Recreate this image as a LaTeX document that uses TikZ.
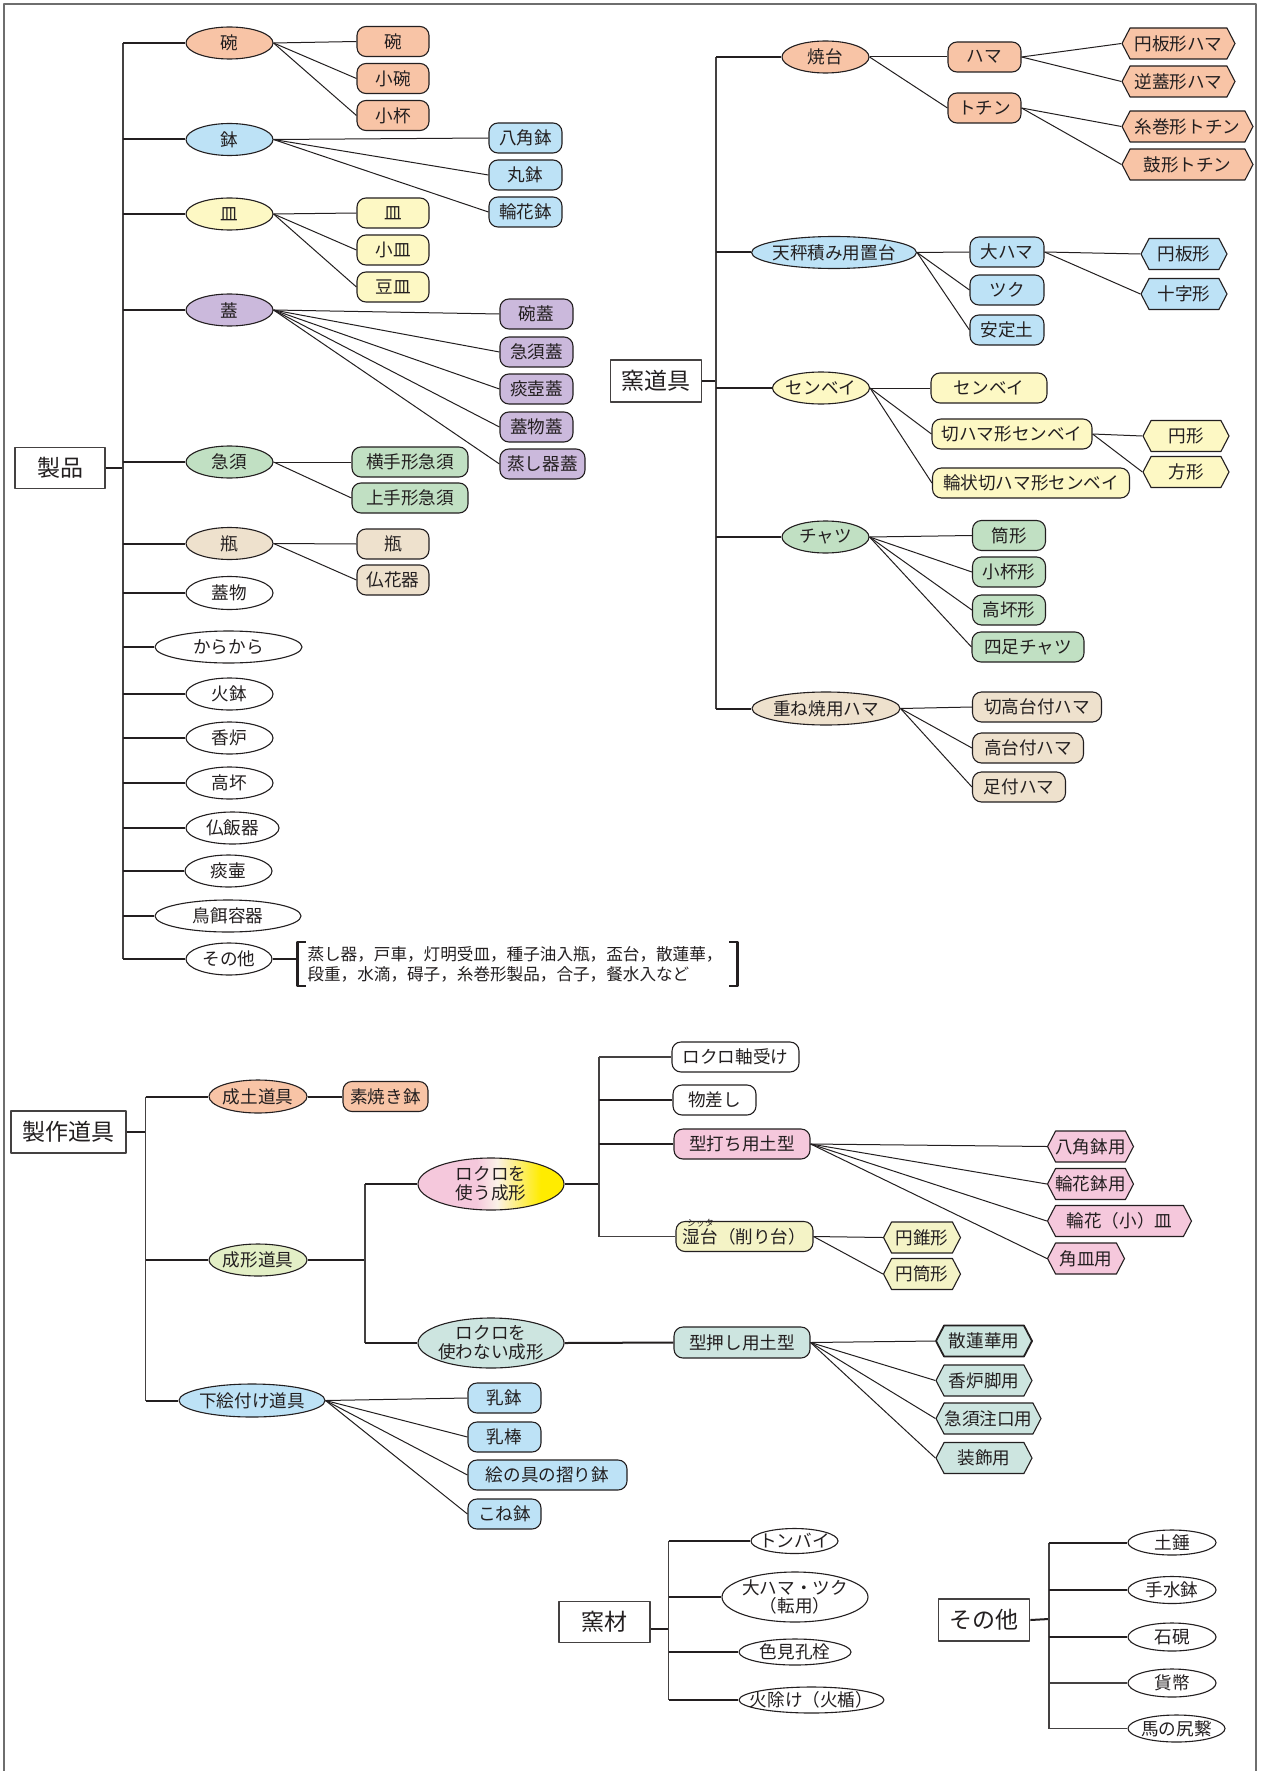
\documentclass[tikz,border=0pt]{standalone}
\usepackage{fontspec}
\setmainfont{Noto Sans CJK JP}
\usetikzlibrary{shapes.geometric,shapes.symbols,calc}

\definecolor{cS}{HTML}{F8C4A6}
\definecolor{cB}{HTML}{BDE2F6}
\definecolor{cY}{HTML}{FDF8C4}
\definecolor{cV}{HTML}{CBB9DC}
\definecolor{cG}{HTML}{C1E0C3}
\definecolor{cBe}{HTML}{EEE1CD}
\definecolor{cYG}{HTML}{E3EFC6}
\definecolor{cPk}{HTML}{F5C8DC}
\definecolor{cT}{HTML}{CDE5E0}
\definecolor{cLY}{HTML}{F4F3C6}
\definecolor{cYel}{HTML}{FFEC00}
\definecolor{cPale}{HTML}{FBF1E8}
\definecolor{ink}{HTML}{231F20}
\definecolor{framegray}{HTML}{6E6E6E}

\pgfdeclarehorizontalshading{rokuro}{100bp}{color(0bp)=(cPk); color(45bp)=(cPk); color(52bp)=(cPale); color(67bp)=(cYel); color(100bp)=(cYel)}

% zero-width text so that the shape size is set by minimum width only
\newcommand\tx[1]{\makebox[0pt]{#1}}
% small reading aid above a character
\newcommand\furi[2]{\leavevmode\rlap{\smash{\raisebox{8.6pt}{\hspace{2pt}\fontsize{4.5}{5}\selectfont #2}}}#1}

\begin{document}
\begin{tikzpicture}[x=0.5pt,y=-0.5pt,line join=round,
  lbl/.style={font=\fontsize{8.8}{9.4}\selectfont, text=ink, align=center},
  wid/.style={minimum width=#1*0.5pt},
  hgt/.style={minimum height=#1*0.5pt},
  ell/.style={ellipse, draw=ink, line width=0.55pt, inner sep=0pt, minimum height=16pt, lbl},
  rbox/.style={rectangle, rounded corners=4.5pt, draw=ink, line width=0.55pt, inner sep=0pt, minimum height=15pt, lbl},
  hexa/.style={signal, signal to=west and east, signal pointer angle=125, draw=ink, line width=0.55pt, inner sep=0pt, minimum height=15.5pt, lbl},
  head/.style={rectangle, draw=ink!85, line width=0.6pt, inner sep=0pt, font=\fontsize{11.5}{13}\selectfont, text=ink},
  edge/.style={draw=ink, line width=0.5pt},
  branch/.style={draw=ink, line width=1pt},
  trunk/.style={draw=ink!85, line width=0.8pt},
]
\useasboundingbox (0,0) rectangle (1260,1771);
\fill[white] (0,0) rectangle (1260,1771);
% outer frame
\draw[framegray, line width=0.8pt] (4,1771) -- (4,4) -- (1256,4) -- (1256,1771);

% ===================== 製品 =====================
\node[head, wid=90, hgt=41] (P) at (60,468) {製品};
\coordinate (Pt) at (123,467);

\node[ell, fill=cS,  wid=87] (p1) at (229.5,43) {\tx{碗}};
\node[ell, fill=cB,  wid=87] (p2) at (229.5,139.5) {\tx{鉢}};
\node[ell, fill=cY,  wid=87] (p3) at (229.5,214) {\tx{皿}};
\node[ell, fill=cV,  wid=87] (p4) at (229.5,310) {\tx{蓋}};
\node[ell, fill=cG,  wid=87] (p5) at (229.5,462) {\tx{急須}};
\node[ell, fill=cBe, wid=87] (p6) at (229.5,543.5) {\tx{瓶}};
\node[ell, fill=white, wid=87, hgt=33] (p7) at (229.5,593) {\tx{蓋物}};
\node[ell, fill=white, wid=147] (p8) at (228.5,647) {\tx{からから}};
\node[ell, fill=white, wid=87] (p9) at (229.5,694) {\tx{火鉢}};
\node[ell, fill=white, wid=87] (p10) at (229.5,738) {\tx{香炉}};
\node[ell, fill=white, wid=87] (p11) at (229.5,783) {\tx{高坏}};
\node[ell, fill=white, wid=93] (p12) at (232.5,828) {\tx{仏飯器}};
\node[ell, fill=white, wid=87] (p13) at (228.5,871) {\tx{痰壷}};
\node[ell, fill=white, wid=146] (p14) at (228,916) {\tx{鳥餌容器}};
\node[ell, fill=white, wid=86] (p15) at (229,959) {\tx{その他}};

\draw[branch] (P.east) -- (Pt |- P.east);
\draw[trunk] (Pt |- p1.west) -- (Pt |- p15.west);
\foreach \n in {p1,p2,p3,p4,p5,p6,p7,p8,p9,p10,p11,p12,p13,p14,p15}
  \draw[branch] (Pt |- \n.west) -- (\n.west);

\node[rbox, fill=cS, wid=72] (c11) at (393,41.5) {\tx{碗}};
\node[rbox, fill=cS, wid=72] (c12) at (393,78.5) {\tx{小碗}};
\node[rbox, fill=cS, wid=72] (c13) at (393,115.5) {\tx{小杯}};
\node[rbox, fill=cB, wid=73] (c21) at (525.5,138) {\tx{八角鉢}};
\node[rbox, fill=cB, wid=73] (c22) at (525.5,175) {\tx{丸鉢}};
\node[rbox, fill=cB, wid=73] (c23) at (525.5,212) {\tx{輪花鉢}};
\node[rbox, fill=cY, wid=72] (c31) at (393,213) {\tx{皿}};
\node[rbox, fill=cY, wid=72] (c32) at (393,250) {\tx{小皿}};
\node[rbox, fill=cY, wid=72] (c33) at (393,287) {\tx{豆皿}};
\node[rbox, fill=cV, wid=73] (c41) at (536.5,314) {\tx{碗蓋}};
\node[rbox, fill=cV, wid=73] (c42) at (536.5,352) {\tx{急須蓋}};
\node[rbox, fill=cV, wid=73] (c43) at (536.5,389) {\tx{痰壺蓋}};
\node[rbox, fill=cV, wid=73] (c44) at (536.5,427) {\tx{蓋物蓋}};
\node[rbox, fill=cV, wid=85] (c45) at (542.5,464) {\tx{蒸し器蓋}};
\node[rbox, fill=cG, wid=116] (c51) at (410,462) {\tx{横手形急須}};
\node[rbox, fill=cG, wid=116] (c52) at (410,498) {\tx{上手形急須}};
\node[rbox, fill=cBe, wid=72] (c61) at (393,544) {\tx{瓶}};
\node[rbox, fill=cBe, wid=72] (c62) at (393,580) {\tx{仏花器}};

\foreach \n in {c11,c12,c13} \draw[edge] (p1.east) -- (\n.west);
\foreach \n in {c21,c22,c23} \draw[edge] (p2.east) -- (\n.west);
\foreach \n in {c31,c32,c33} \draw[edge] (p3.east) -- (\n.west);
\foreach \n in {c41,c42,c43,c44,c45} \draw[edge] (p4.east) -- (\n.west);
\foreach \n in {c51,c52} \draw[edge] (p5.east) -- (\n.west);
\foreach \n in {c61,c62} \draw[edge] (p6.east) -- (\n.west);

% bracketed list of other products
\node[font=\fontsize{8.3}{10}\selectfont, text=ink, align=left, text width=210pt,
      minimum width=219.5pt, minimum height=21.5pt, inner sep=0pt] (misc) at (517.5,964)
  {蒸し器，戸車，灯明受皿，種子油入瓶，盃台，散蓮華，\\段重，水滴，碍子，糸巻形製品，合子，餐水入など};
\draw[ink, line width=1.2pt] ([xshift=4pt]misc.north west) -- (misc.north west) -- (misc.south west) -- ([xshift=4pt]misc.south west);
\draw[ink, line width=1.2pt] ([xshift=-4pt]misc.north east) -- (misc.north east) -- (misc.south east) -- ([xshift=-4pt]misc.south east);
\draw[branch] (p15.east) -- (p15.east -| misc.west);

% ===================== 窯道具 =====================
\node[head, wid=91, hgt=42] (K) at (656,381) {窯道具};
\coordinate (Kt) at (716,380);

\node[ell, fill=cS, wid=87] (k1) at (825.5,57) {\tx{焼台}};
\node[ell, fill=cB, wid=165] (k2) at (834,252.5) {\tx{天秤積み用置台}};
\node[ell, fill=cY, wid=97] (k3) at (821,388) {\tx{センベイ}};
\node[ell, fill=cG, wid=87] (k4) at (825.5,537) {\tx{チャツ}};
\node[ell, fill=cBe, wid=148, hgt=33] (k5) at (826,708.5) {\tx{重ね焼用ハマ}};

\draw[branch] (K.east) -- (Kt |- K.east);
\draw[trunk, line width=1pt] (Kt |- k1.west) -- (Kt |- k5.west);
\foreach \n in {k1,k2,k3,k4,k5} \draw[branch] (Kt |- \n.west) -- (\n.west);

\node[rbox, fill=cS, wid=73] (k11) at (984.5,57) {\tx{ハマ}};
\node[rbox, fill=cS, wid=73] (k12) at (984.5,108) {\tx{トチン}};
\node[hexa, fill=cS, wid=113] (k111) at (1178.5,43.5) {\tx{円板形ハマ}};
\node[hexa, fill=cS, wid=113] (k112) at (1178.5,81.5) {\tx{逆蓋形ハマ}};
\node[hexa, fill=cS, wid=131] (k121) at (1187.5,126.5) {\tx{糸巻形トチン}};
\node[hexa, fill=cS, wid=131] (k122) at (1187.5,164.5) {\tx{鼓形トチン}};

\node[rbox, fill=cB, wid=74] (k21) at (1007,252) {\tx{大ハマ}};
\node[rbox, fill=cB, wid=74] (k22) at (1007,290) {\tx{ツク}};
\node[rbox, fill=cB, wid=74] (k23) at (1007,330) {\tx{安定土}};
\node[hexa, fill=cB, wid=86] (k211) at (1184,254) {\tx{円板形}};
\node[hexa, fill=cB, wid=86] (k212) at (1184,294) {\tx{十字形}};

\node[rbox, fill=cY, wid=116] (k31) at (989,388) {\tx{センベイ}};
\node[rbox, fill=cY, wid=160] (k32) at (1012,434) {\tx{切ハマ形センベイ}};
\node[rbox, fill=cY, wid=197] (k33) at (1031,483) {\tx{輪状切ハマ形センベイ}};
\node[hexa, fill=cY, wid=86] (k321) at (1186,436) {\tx{円形}};
\node[hexa, fill=cY, wid=86] (k322) at (1186,472) {\tx{方形}};

\node[rbox, fill=cG, wid=73] (k41) at (1009,535.5) {\tx{筒形}};
\node[rbox, fill=cG, wid=73] (k42) at (1009,572) {\tx{小杯形}};
\node[rbox, fill=cG, wid=73] (k43) at (1009,610) {\tx{高坏形}};
\node[rbox, fill=cG, wid=112] (k44) at (1028,647) {\tx{四足チャツ}};

\node[rbox, fill=cBe, wid=129] (k51) at (1037,707) {\tx{切高台付ハマ}};
\node[rbox, fill=cBe, wid=111] (k52) at (1028,748) {\tx{高台付ハマ}};
\node[rbox, fill=cBe, wid=93] (k53) at (1019,787) {\tx{足付ハマ}};

\foreach \n in {k11,k12} \draw[edge] (k1.east) -- (\n.west);
\foreach \n in {k111,k112} \draw[edge] (k11.east) -- (\n.west);
\foreach \n in {k121,k122} \draw[edge] (k12.east) -- (\n.west);
\foreach \n in {k21,k22,k23} \draw[edge] (k2.east) -- (\n.west);
\foreach \n in {k211,k212} \draw[edge] (k21.east) -- (\n.west);
\foreach \n in {k31,k32,k33} \draw[edge] (k3.east) -- (\n.west);
\foreach \n in {k321,k322} \draw[edge] (k32.east) -- (\n.west);
\foreach \n in {k41,k42,k43,k44} \draw[edge] (k4.east) -- (\n.west);
\foreach \n in {k51,k52,k53} \draw[edge] (k5.east) -- (\n.west);

% ===================== 製作道具 =====================
\node[head, wid=115, hgt=42] (M) at (68.5,1132) {製作道具};
\coordinate (Mt) at (145.5,1133);

\node[ell, fill=cS, wid=98, hgt=33] (m1) at (258,1096.5) {\tx{成土道具}};
\node[ell, fill=cYG, wid=98] (m2) at (258,1260) {\tx{成形道具}};
\node[ell, fill=cB, wid=146, hgt=33] (m3) at (252,1400.5) {\tx{下絵付け道具}};

\draw[branch] (M.east) -- (Mt |- M.east);
\draw[trunk] (Mt |- m1.west) -- (Mt |- m3.west);
\foreach \n in {m1,m2,m3} \draw[branch] (Mt |- \n.west) -- (\n.west);

\node[rbox, fill=cS, wid=85] (m11) at (385.5,1096.5) {\tx{素焼き鉢}};
\draw[branch] (m1.east) -- (m11.west);

\coordinate (Ms) at (365,1261);
\node[ell, shade, shading=rokuro, wid=146, hgt=52] (m21) at (491,1184) {\tx{ロクロを}\\\tx{使う成形}};
\node[ell, fill=cT, wid=146, hgt=50] (m22) at (491,1343) {\tx{ロクロを}\\\tx{使わない成形}};
\draw[branch] (m2.east) -- (Ms |- m2.east);
\draw[trunk] (Ms |- m21.west) -- (Ms |- m22.west);
\foreach \n in {m21,m22} \draw[branch] (Ms |- \n.west) -- (\n.west);

\coordinate (Rs) at (599,1184);
\node[rbox, fill=white, wid=127] (m211) at (735.5,1057) {\tx{ロクロ軸受け}};
\node[rbox, fill=white, wid=83] (m212) at (714.5,1100) {\tx{物差し}};
\node[rbox, fill=cPk, wid=136] (m213) at (742,1144) {\tx{型打ち用土型}};
\node[rbox, fill=cLY, wid=137] (m214) at (744.5,1236.5) {\tx{\furi{湿}{シッタ}台（削り台）}};
\draw[branch] (m21.east) -- (Rs);
\draw[trunk] (Rs |- m211.west) -- (Rs |- m214.west);
\draw[trunk] (Rs |- m211.west) -- (m211.west);
\foreach \n in {m212,m213} \draw[branch] (Rs |- \n.west) -- (\n.west);
\draw[trunk] (Rs |- m214.west) -- (m214.west);

\node[hexa, fill=cPk, wid=86] (m2131) at (1090.5,1146.5) {\tx{八角鉢用}};
\node[hexa, fill=cPk, wid=86] (m2132) at (1090.5,1184) {\tx{輪花鉢用}};
\node[hexa, fill=cPk, wid=144] (m2133) at (1119.5,1221) {\tx{輪花（小）皿}};
\node[hexa, fill=cPk, wid=77] (m2134) at (1086,1258.5) {\tx{角皿用}};
\foreach \n in {m2131,m2132,m2133,m2134} \draw[edge] (m213.east) -- (\n.west);

\node[hexa, fill=cLY, wid=77] (m2141) at (922,1237.5) {\tx{円錐形}};
\node[hexa, fill=cLY, wid=77] (m2142) at (922,1274) {\tx{円筒形}};
\foreach \n in {m2141,m2142} \draw[edge] (m214.east) -- (\n.west);

\node[rbox, fill=cT, wid=136, hgt=31] (m221) at (742,1342.5) {\tx{型押し用土型}};
\draw[branch] (m22.east) -- (m221.west);
\node[hexa, fill=cT, wid=96, line width=0.9pt] (m2211) at (984,1341) {\tx{散蓮華用}};
\node[hexa, fill=cT, wid=96] (m2212) at (984,1380.5) {\tx{香炉脚用}};
\node[hexa, fill=cT, wid=105] (m2213) at (988.5,1418.5) {\tx{急須注口用}};
\node[hexa, fill=cT, wid=96] (m2214) at (984,1458) {\tx{装飾用}};
\foreach \n in {m2211,m2212,m2213,m2214} \draw[edge] (m221.east) -- (\n.west);

\node[rbox, fill=cB, wid=73] (m31) at (504.5,1398) {\tx{乳鉢}};
\node[rbox, fill=cB, wid=73] (m32) at (504.5,1437) {\tx{乳棒}};
\node[rbox, fill=cB, wid=159] (m33) at (547.5,1475) {\tx{絵の具の摺り鉢}};
\node[rbox, fill=cB, wid=73] (m34) at (504.5,1514) {\tx{こね鉢}};
\foreach \n in {m31,m32,m33,m34} \draw[edge] (m3.east) -- (\n.west);

% ===================== 窯材 =====================
\node[head, wid=91, hgt=41] (Z) at (604.5,1622) {窯材};
\coordinate (Zt) at (668.5,1629);
\node[ell, fill=white, wid=87, hgt=25] (z1) at (794.5,1541) {\tx{トンバイ}};
\node[ell, fill=white, wid=146, hgt=50] (z2) at (795,1597) {\tx{大ハマ・ツク}\\\tx{（転用）}};
\node[ell, fill=white, wid=112, hgt=26] (z3) at (795,1652) {\tx{色見孔栓}};
\node[ell, fill=white, wid=145, hgt=26] (z4) at (811.5,1700) {\tx{火除け（火楯）}};
\draw[branch] ([yshift=-3.5pt]Z.east) -- (Zt);
\draw[trunk] (Zt |- z1.west) -- (Zt |- z4.west);
\foreach \n in {z1,z2,z3,z4} \draw[branch] (Zt |- \n.west) -- (\n.west);

% ===================== その他 =====================
\node[head, wid=91.5, hgt=42] (O) at (984,1620) {その他};
\coordinate (Ot) at (1048.7,1619);
\node[ell, fill=white, wid=88, hgt=25] (o1) at (1172,1542.5) {\tx{土錘}};
\node[ell, fill=white, wid=88, hgt=27] (o2) at (1172,1590) {\tx{手水鉢}};
\node[ell, fill=white, wid=88, hgt=28] (o3) at (1172,1637) {\tx{石硯}};
\node[ell, fill=white, wid=88, hgt=28] (o4) at (1172,1683) {\tx{貨幣}};
\node[ell, fill=white, wid=97, hgt=27] (o5) at (1176.5,1728.5) {\tx{馬の尻繋}};
\draw[branch] (O.east) -- (Ot);
\draw[trunk] (Ot |- o1.west) -- (Ot |- o5.west);
\foreach \n in {o1,o2,o3} \draw[branch] (Ot |- \n.west) -- (\n.west);
\foreach \n in {o4,o5} \draw[trunk] (Ot |- \n.west) -- (\n.west);
\end{tikzpicture}
\end{document}
